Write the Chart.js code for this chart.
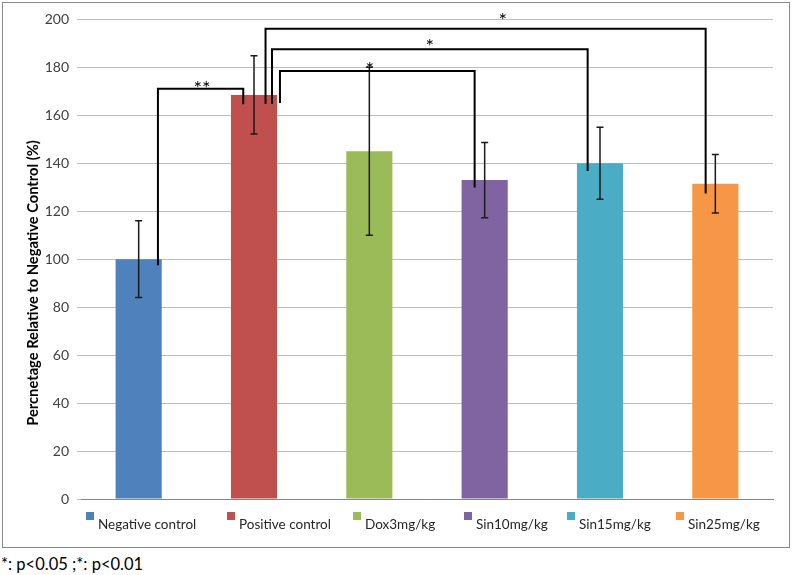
<!DOCTYPE html>
<html><head><meta charset="utf-8">
<script src="https://cdn.jsdelivr.net/npm/chart.js@4.4.0/dist/chart.umd.min.js"></script>
<style>
body{margin:0;background:#fff;}
#box{position:absolute;left:2px;top:2px;width:786px;height:544px;border:1px solid #868686;}
#note{position:absolute;left:1px;top:554px;font-family:Lato;font-size:16.5px;line-height:20px;color:#000;white-space:nowrap;}
</style></head><body>
<div id="box"><canvas id="c" width="786" height="544"></canvas></div>
<div id="note">*: p&lt;0.05 ;*: p&lt;0.01</div>
<script>
const categories = ['Negative control','Positive control','Dox3mg/kg','Sin10mg/kg','Sin15mg/kg','Sin25mg/kg'];
const values = [100, 168.5, 145, 133, 140, 131.5];
const errors = [16, 16.3, 35, 15.7, 15, 12.2];
const colors = ['#4F81BD','#C0504D','#9BBB59','#8064A2','#4BACC6','#F79646'];
const yMin = 0, yMax = 200, yStep = 20;
const yTitle = 'Percnetage Relative to Negative Control (%)';

// significance brackets (x in category index units, y in data units)
const bracketFrom = [0.167, 1.225, 1.156, 1.10];
const bracketTo = [0.907, 2.913, 3.893, 4.916];
const bracketTop = [171.1, 178.5, 187.6, 196.1];
const bracketFromBottom = [97.5, 165.1, 164.8, 164.8];
const bracketToBottom = [164.6, 129.9, 136.8, 127.4];
const bracketLabels = ['**','*','*','*'];
const bracketLabelX = [0.55, 2.003, 2.524, 3.157];
const bracketLabelY = [173.3, 181.3, 190.8, 201.4];

// layout of the hand-drawn legend (canvas px)
const LEGEND_BOX_X = [83, 224, 350, 461, 564, 673];
const LEGEND_BOX_TOP = 509, LEGEND_BOX = 8, LEGEND_TEXT_BASE = 526;

const overlay = {
  id: 'overlay',
  afterDatasetsDraw(chart) {
    const ctx = chart.ctx, x = chart.scales.x, y = chart.scales.y;
    ctx.save();
    // error bars
    ctx.strokeStyle = '#1a1a1a';
    ctx.lineWidth = 1.5;
    values.forEach((v, i) => {
      const px = x.getPixelForValue(i);
      const top = y.getPixelForValue(v + errors[i]);
      const bot = y.getPixelForValue(v - errors[i]);
      ctx.beginPath();
      ctx.moveTo(px, top); ctx.lineTo(px, bot);
      ctx.moveTo(px - 3.5, top); ctx.lineTo(px + 3.5, top);
      ctx.moveTo(px - 3.5, bot); ctx.lineTo(px + 3.5, bot);
      ctx.stroke();
    });
    // brackets
    ctx.strokeStyle = '#000';
    ctx.lineWidth = 2;
    bracketFrom.forEach((f, k) => {
      const x1 = x.getPixelForValue(f), x2 = x.getPixelForValue(bracketTo[k]);
      const yt = y.getPixelForValue(bracketTop[k]);
      ctx.beginPath();
      ctx.moveTo(x1, y.getPixelForValue(bracketFromBottom[k]));
      ctx.lineTo(x1, yt);
      ctx.lineTo(x2, yt);
      ctx.lineTo(x2, y.getPixelForValue(bracketToBottom[k]));
      ctx.stroke();
    });
    const starSize = 20;
    ctx.fillStyle = '#000';
    ctx.font = starSize + 'px Lato';
    ctx.textAlign = 'center';
    ctx.textBaseline = 'alphabetic';
    bracketLabels.forEach((t, k) => {
      ctx.fillText(t, x.getPixelForValue(bracketLabelX[k]), y.getPixelForValue(bracketLabelY[k]) + starSize * 0.57);
    });
    // y-axis title
    ctx.save();
    ctx.translate(30, 280);
    ctx.rotate(-Math.PI / 2);
    ctx.font = 'bold 14.7px Lato';
    ctx.textAlign = 'center';
    ctx.textBaseline = 'middle';
    ctx.fillStyle = '#000';
    ctx.fillText(yTitle, 0, 0);
    ctx.restore();
    // legend
    ctx.font = '13.5px Lato';
    ctx.textAlign = 'left';
    ctx.textBaseline = 'alphabetic';
    categories.forEach((c, i) => {
      ctx.fillStyle = colors[i];
      ctx.fillRect(LEGEND_BOX_X[i], LEGEND_BOX_TOP, LEGEND_BOX, LEGEND_BOX);
      ctx.fillStyle = '#262626';
      ctx.fillText(c, LEGEND_BOX_X[i] + 12, LEGEND_TEXT_BASE);
    });
    ctx.restore();
  }
};

new Chart(document.getElementById('c'), {
  type: 'bar',
  data: {
    labels: categories,
    datasets: [{ data: values, backgroundColor: colors, barPercentage: 0.4, categoryPercentage: 1.0 }]
  },
  options: {
    responsive: false,
    devicePixelRatio: 1,
    animation: false,
    layout: { padding: { top: 16, right: 16, bottom: 48, left: 0 } },
    plugins: {
      tooltip: { enabled: false },
      legend: { display: false }
    },
    scales: {
      x: {
        grid: { display: false },
        ticks: { display: false },
        border: { color: '#868686', width: 1 },
        afterFit: s => { s.height = 0; }
      },
      y: {
        min: yMin, max: yMax,
        ticks: { stepSize: yStep, color: '#404040', font: { family: 'Lato', size: 14 }, padding: 8 },
        grid: { color: '#bdbdbd', tickLength: 4 },
        border: { display: false },
        afterFit: s => { s.width = 78; }
      }
    }
  },
  plugins: [overlay]
});
</script>
</body></html>
